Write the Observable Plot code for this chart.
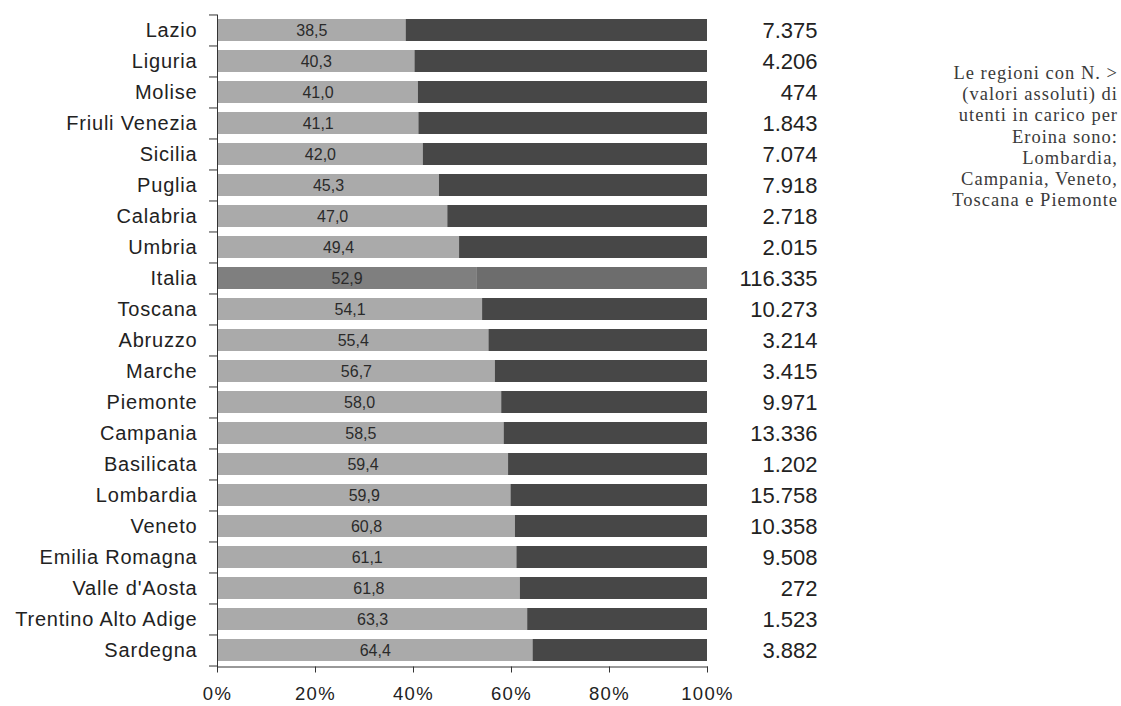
<!DOCTYPE html>
<html>
<head>
<meta charset="utf-8">
<script src="https://cdn.jsdelivr.net/npm/d3@7"></script>
<script src="https://cdn.jsdelivr.net/npm/@observablehq/plot@0.6"></script>
<style>
  html, body { margin: 0; padding: 0; background: #fff; }
  #wrap { position: relative; width: 1121px; height: 706px; }
  #note {
    position: absolute; right: 3px; top: 63px; width: 240px;
    text-align: right; font-family: "Liberation Serif", "Times New Roman", serif;
    font-size: 18.5px; letter-spacing: 1px; line-height: 21.2px; color: #3a3a3a;
  }
</style>
</head>
<body>
<div id="wrap">
  <div id="chart"></div>
  <div id="note">Le regioni con N. &gt;<br>(valori assoluti) di<br>utenti in carico per<br>Eroina sono:<br>Lombardia,<br>Campania, Veneto,<br>Toscana e Piemonte</div>
</div>
<script>
const regions = ["Lazio","Liguria","Molise","Friuli Venezia","Sicilia","Puglia","Calabria","Umbria","Italia","Toscana","Abruzzo","Marche","Piemonte","Campania","Basilicata","Lombardia","Veneto","Emilia Romagna","Valle d'Aosta","Trentino Alto Adige","Sardegna"];
const pct = [38.5,40.3,41.0,41.1,42.0,45.3,47.0,49.4,52.9,54.1,55.4,56.7,58.0,58.5,59.4,59.9,60.8,61.1,61.8,63.3,64.4];
const totals = [7375,4206,474,1843,7074,7918,2718,2015,116335,10273,3214,3415,9971,13336,1202,15758,10358,9508,272,1523,3882];
const xTicks = [0,0.2,0.4,0.6,0.8,1];

const it = d3.formatLocale({decimal: ",", thousands: ".", grouping: [3], currency: ["", "€"]});
const fmtPct = it.format(".1f");
const fmtN = it.format(",d");

const rows = regions.map((r, i) => ({region: r, pct: pct[i], total: totals[i]}));

const W = 1121, H = 706;
const mT = 14.5, mB = 39.5, mL = 217, mR = 414;
const step = (H - mT - mB) / regions.length;
const font = "'Liberation Sans', Arial, sans-serif";

const chart = Plot.plot({
  width: W, height: H,
  marginTop: mT, marginBottom: mB, marginLeft: mL, marginRight: mR,
  style: {fontFamily: font, color: "#222", background: "#fff"},
  x: {domain: [0, 1]},
  y: {domain: regions, paddingInner: 0.29, paddingOuter: 0.145},
  marks: [
    Plot.barX(rows, {y: "region", x1: 0, x2: d => d.pct / 100,
      fill: d => d.region === "Italia" ? "#7f7f7f" : "#aaaaaa"}),
    Plot.barX(rows, {y: "region", x1: d => d.pct / 100, x2: 1,
      fill: d => d.region === "Italia" ? "#6d6d6d" : "#474747"}),
    Plot.text(rows, {y: "region", x: d => d.pct / 200, text: d => fmtPct(d.pct),
      fontSize: 16, fill: "#2a2a2a", ariaLabel: "pct"}),
    Plot.text(rows, {y: "region", x: 1, text: d => fmtN(d.total),
      textAnchor: "end", dx: 110, fontSize: 22, fill: "#222", ariaLabel: "total"}),
    Plot.ruleY(regions, {y: d => d, x1: -0.0163, x2: 0, dy: -step / 2, stroke: "#333"}),
    Plot.ruleY(regions.slice(-1), {y: d => d, x1: -0.0163, x2: 0, dy: step / 2, stroke: "#333"}),
    Plot.frame({anchor: "left", stroke: "#333"}),
    Plot.frame({anchor: "bottom", stroke: "#333"}),
    Plot.axisY({tickSize: 0, tickPadding: 20, fontSize: 20, label: null, fill: "#222"}),
    Plot.axisX({ticks: xTicks, tickSize: 6, tickPadding: 14, fontSize: 18.5,
      tickFormat: d3.format(".0%"), label: null, stroke: "#333", fill: "#222"})
  ]
});
const sel = d3.select(chart);
sel.selectAll('g[aria-label="y-axis tick label"] text').style("letter-spacing", "0.8px");
sel.selectAll('g[aria-label="x-axis tick label"] text').style("letter-spacing", "1.3px");
sel.selectAll('g[aria-label="total"] text').style("letter-spacing", "1.4px");
sel.selectAll('g[aria-label="pct"] text').style("letter-spacing", "0.7px");
document.getElementById("chart").appendChild(chart);
</script>
</body>
</html>
